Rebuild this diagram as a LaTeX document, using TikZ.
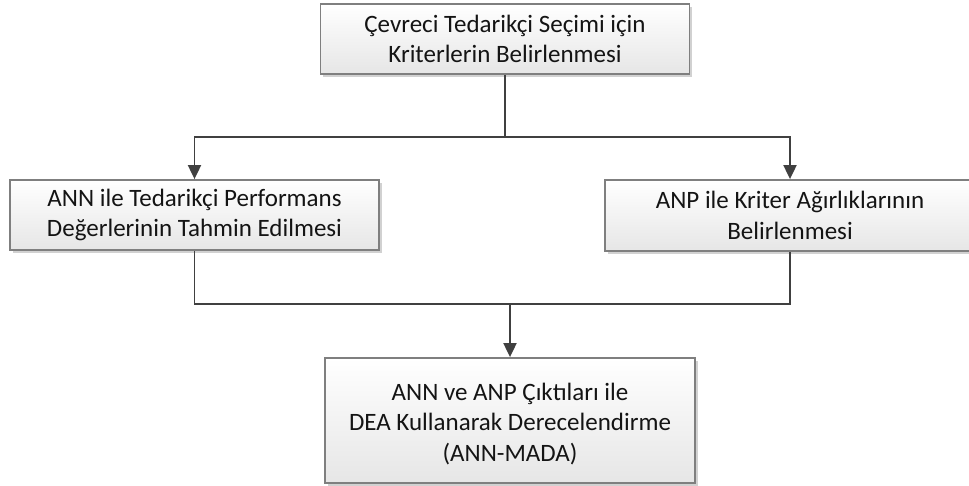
\documentclass[tikz,border=0pt]{standalone}
\usepackage{fontspec}
\setmainfont{Carlito}
\usetikzlibrary{arrows.meta,shadows}
\definecolor{boxline}{HTML}{7F7F7F}
\definecolor{conncol}{HTML}{404040}
\definecolor{fillbot}{HTML}{E6E6E6}
\tikzset{
  boxtext/.style={align=center, inner sep=0pt,
    font=\fontsize{25}{30.5}\selectfont, text=black!92},
  stepbox/.style={boxtext, draw=boxline, line width=1.8pt, rectangle,
    top color=white, bottom color=fillbot,
    drop shadow={shadow xshift=2.5pt, shadow yshift=-2.5pt, fill=black, opacity=0.18}},
  conn/.style={draw=conncol, line width=1.9pt},
  arr/.style={conn, -{Triangle[length=14pt,width=13pt]}}
}
\begin{document}
\begin{tikzpicture}[x=1pt,y=-1pt]
\useasboundingbox (0,0) rectangle (969,485);
\begin{scope}
\clip (0,0) rectangle (969,485);
% process steps
\node[stepbox, minimum width=369pt, minimum height=70pt] (top) at (505,39)
  {Çevreci Tedarikçi Seçimi için\\Kriterlerin Belirlenmesi};
\node[stepbox, minimum width=369pt, minimum height=70pt] (left) at (194.5,215)
  {ANN ile Tedarikçi Performans\\Değerlerinin Tahmin Edilmesi};
\node[stepbox, minimum width=370pt, minimum height=71pt] (right) at (790,215.5)
  {ANP ile Kriter Ağırlıklarının\\Belirlenmesi};
\node[stepbox, minimum width=370pt, minimum height=125pt] (bottom) at (510,420.5) {};
\node[boxtext] (bottomtext) at ([yshift=-3.5pt]bottom.center)
  {ANN ve ANP Çıktıları ile\\DEA Kullanarak Derecelendirme\\(ANN-MADA)};
% connectors
\coordinate (split) at (505,137);
\coordinate (merge) at (510,304);
\draw[conn] (top.south) -- (split);
\draw[arr] (split) -| (left.north);
\draw[arr] (split) -| (right.north);
\draw[conn] (left.south) |- (merge);
\draw[conn] (right.south) |- (merge);
\draw[arr] (merge) -- (bottom.north);
\end{scope}
\end{tikzpicture}
\end{document}
